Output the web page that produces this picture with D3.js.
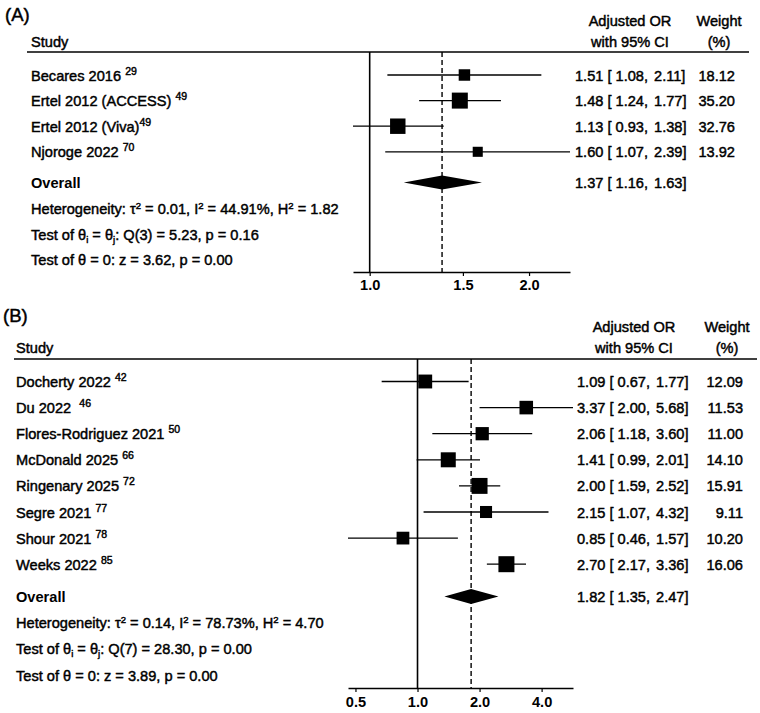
<!DOCTYPE html>
<html>
<head>
<meta charset="utf-8">
<script src="https://cdn.jsdelivr.net/npm/d3@7/dist/d3.min.js"></script>
<style>
  body { margin: 0; background: #fff; }
  svg { display: block; }
  text { font-family: "Liberation Sans", Arial, sans-serif; fill: #000; white-space: pre; }
  .reg { stroke: #000; stroke-width: 0.45px; }
</style>
</head>
<body>
<svg id="chart" width="760" height="713"></svg>
<script>
// ---------------- Panel A data ----------------
const studiesA = ["Becares 2016", "Ertel 2012 (ACCESS)", "Ertel 2012 (Viva)", "Njoroge 2022"];
const refsA    = ["29", "49", "49", "70"];
const orA      = [1.51, 1.48, 1.13, 1.60];
const lowA     = [1.08, 1.24, 0.93, 1.07];
const highA    = [2.11, 1.77, 1.38, 2.39];
const weightA  = [18.12, 35.20, 32.76, 13.92];
const overallA = [1.37, 1.16, 1.63];
const hetA     = ["0.01", "44.91%", "1.82"];
const qA       = ["3", "5.23", "0.16"];
const zA       = ["3.62", "0.00"];
const ticksA   = [1.0, 1.5, 2.0];

// ---------------- Panel B data ----------------
const studiesB = ["Docherty 2022", "Du 2022", "Flores-Rodriguez 2021", "McDonald 2025",
                  "Ringenary 2025", "Segre 2021", "Shour 2021", "Weeks 2022"];
const refsB    = ["42", "46", "50", "66", "72", "77", "78", "85"];
const orB      = [1.09, 3.37, 2.06, 1.41, 2.00, 2.15, 0.85, 2.70];
const lowB     = [0.67, 2.00, 1.18, 0.99, 1.59, 1.07, 0.46, 2.17];
const highB    = [1.77, 5.68, 3.60, 2.01, 2.52, 4.32, 1.57, 3.36];
const weightB  = [12.09, 11.53, 11.00, 14.10, 15.91, 9.11, 10.20, 16.06];
const overallB = [1.82, 1.35, 2.47];
const hetB     = ["0.14", "78.73%", "4.70"];
const qB       = ["7", "28.30", "0.00"];
const zB       = ["3.89", "0.00"];
const ticksB   = [0.5, 1.0, 2.0, 4.0];

const svg = d3.select("#chart");
const FS = 14.6;
const f2 = d3.format(".2f");

function estText(sel, o, l, h) {
  sel.append("tspan").text(`${f2(o)} [ ${f2(l)},`);
  sel.append("tspan").attr("dx", 6).text(`${f2(h)}]`);
}

function panel(cfg) {
  const g = svg.append("g");
  const n = cfg.studies.length;
  const lo = d3.min(cfg.low), hi = d3.max(cfg.high);
  const x = d3.scaleLog().domain([lo, hi]).range([cfg.axisL, cfg.axisR]);
  const rowBase = i => cfg.firstBase + i * cfg.step;   // text baseline
  const rowMid = i => rowBase(i) - 5.5;

  // panel label
  g.append("text").attr("x", cfg.labX).attr("y", cfg.labY)
    .attr("font-size", 18.5).attr("class", "reg").text(cfg.label);

  // headers
  g.append("text").attr("x", cfg.textL).attr("y", cfg.hdr2).attr("font-size", FS).attr("class","reg").text("Study");
  g.append("text").attr("x", cfg.orC).attr("y", cfg.hdr1).attr("text-anchor", "middle").attr("font-size", FS).attr("class","reg").text("Adjusted OR");
  g.append("text").attr("x", cfg.orC).attr("y", cfg.hdr2).attr("text-anchor", "middle").attr("font-size", FS).attr("class","reg").text("with 95% CI");
  g.append("text").attr("x", cfg.wC).attr("y", cfg.hdr1).attr("text-anchor", "middle").attr("font-size", FS).attr("class","reg").text("Weight");
  g.append("text").attr("x", cfg.wC).attr("y", cfg.hdr2).attr("text-anchor", "middle").attr("font-size", FS).attr("class","reg").text("(%)");

  // header rule
  g.append("line").attr("x1", cfg.ruleL).attr("x2", cfg.ruleR)
    .attr("y1", cfg.ruleY).attr("y2", cfg.ruleY).attr("stroke", "#000").attr("stroke-width", 1.6);

  // null line
  g.append("line").attr("x1", x(1)).attr("x2", x(1))
    .attr("y1", cfg.ruleY).attr("y2", cfg.axisY).attr("stroke", "#000").attr("stroke-width", 1.6);
  // overall dashed line
  g.append("line").attr("x1", x(cfg.overall[0])).attr("x2", x(cfg.overall[0]))
    .attr("y1", cfg.ruleY).attr("y2", cfg.axisY).attr("stroke", "#000").attr("stroke-width", 1.4)
    .attr("stroke-dasharray", "5,3");

  // axis
  const axis = d3.axisBottom(x).tickValues(cfg.ticks).tickFormat(d3.format(".1f")).tickSize(4).tickSizeOuter(0);
  const ag = g.append("g").attr("transform", `translate(0,${cfg.axisY})`).call(axis);
  ag.select(".domain").attr("stroke", "#000").attr("stroke-width", 1.4);
  ag.selectAll(".tick line").attr("stroke", "#000").attr("stroke-width", 1.2);
  ag.selectAll(".tick text").attr("font-size", FS).attr("font-family", "Liberation Sans, Arial, sans-serif")
    .attr("font-weight", "bold").attr("dy", null).attr("y", cfg.tickLabY);

  const maxW = d3.max(cfg.weight);
  const sizeOf = w => 16 * Math.sqrt(w / maxW);

  const rows = g.selectAll("g.row").data(d3.range(n)).join("g").attr("class", "row");
  rows.append("line")
    .attr("x1", i => x(cfg.low[i])).attr("x2", i => x(cfg.high[i]))
    .attr("y1", rowMid).attr("y2", rowMid).attr("stroke", "#000").attr("stroke-width", 1.3);
  rows.append("rect")
    .attr("x", i => x(cfg.or[i]) - sizeOf(cfg.weight[i]) / 2)
    .attr("y", i => rowMid(i) - sizeOf(cfg.weight[i]) / 2)
    .attr("width", i => sizeOf(cfg.weight[i])).attr("height", i => sizeOf(cfg.weight[i]))
    .attr("fill", "#000");
  const lab = rows.append("text").attr("x", cfg.textL).attr("y", rowBase).attr("font-size", FS).attr("class","reg");
  lab.append("tspan").text(i => cfg.studies[i] + cfg.gap[i]);
  lab.append("tspan").attr("font-size", 10.5).attr("dy", -6).text(i => cfg.refs[i]);
  rows.append("text").attr("x", cfg.estL).attr("y", rowBase).attr("font-size", FS).attr("class","reg")
    .each(function(i) { estText(d3.select(this), cfg.or[i], cfg.low[i], cfg.high[i]); });
  rows.append("text").attr("x", cfg.wR).attr("y", rowBase).attr("text-anchor", "end").attr("font-size", FS).attr("class","reg")
    .text(i => f2(cfg.weight[i]));

  // overall
  const oy = cfg.overallBase - 5.5;
  const dh = cfg.diamondH;
  g.append("path")
    .attr("d", `M${x(cfg.overall[1])},${oy} L${x(cfg.overall[0])},${oy - dh} L${x(cfg.overall[2])},${oy} L${x(cfg.overall[0])},${oy + dh} Z`)
    .attr("fill", "#000");
  g.append("text").attr("x", cfg.textL).attr("y", cfg.overallBase).attr("font-size", FS).attr("font-weight", "bold").text("Overall");
  const ot = g.append("text").attr("x", cfg.estL).attr("y", cfg.overallBase).attr("font-size", FS).attr("class","reg");
  estText(ot, cfg.overall[0], cfg.overall[1], cfg.overall[2]);

  // statistics
  const t1 = g.append("text").attr("x", cfg.textL).attr("y", cfg.statBase[0]).attr("font-size", FS).attr("class","reg");
  t1.append("tspan").text("Heterogeneity: τ");
  t1.append("tspan").attr("font-size", 9.5).attr("dy", -5).text("2");
  t1.append("tspan").attr("dy", 5).text(` = ${cfg.het[0]}, I`);
  t1.append("tspan").attr("font-size", 9.5).attr("dy", -5).text("2");
  t1.append("tspan").attr("dy", 5).text(` = ${cfg.het[1]}, H`);
  t1.append("tspan").attr("font-size", 9.5).attr("dy", -5).text("2");
  t1.append("tspan").attr("dy", 5).text(` = ${cfg.het[2]}`);

  const t2 = g.append("text").attr("x", cfg.textL).attr("y", cfg.statBase[1]).attr("font-size", FS).attr("class","reg");
  t2.append("tspan").text("Test of θ");
  t2.append("tspan").attr("font-size", 9.5).attr("dy", 3).text("i");
  t2.append("tspan").attr("dy", -3).text(" = θ");
  t2.append("tspan").attr("font-size", 9.5).attr("dy", 3).text("j");
  t2.append("tspan").attr("dy", -3).text(`: Q(${cfg.q[0]}) = ${cfg.q[1]}, p = ${cfg.q[2]}`);

  g.append("text").attr("x", cfg.textL).attr("y", cfg.statBase[2]).attr("font-size", FS).attr("class","reg")
    .text(`Test of θ = 0: z = ${cfg.z[0]}, p = ${cfg.z[1]}`);
}

panel({
  label: "(A)", labX: 5, labY: 21,
  studies: studiesA, refs: refsA, gap: [" ", " ", "", " "],
  or: orA, low: lowA, high: highA, weight: weightA, overall: overallA,
  het: hetA, q: qA, z: zA, ticks: ticksA,
  textL: 31, hdr1: 26, hdr2: 47, orC: 630, wC: 719,
  ruleL: 27, ruleR: 749, ruleY: 52,
  axisL: 353, axisR: 570, axisY: 272, tickLabY: 18,
  firstBase: 80.5, step: 25.6, overallBase: 188, diamondH: 7,
  statBase: [214, 239.5, 265],
  estL: 575, wR: 735
});

panel({
  label: "(B)", labX: 3, labY: 322,
  studies: studiesB, refs: refsB, gap: [" ", "  ", " ", " ", " ", " ", " ", " "],
  or: orB, low: lowB, high: highB, weight: weightB, overall: overallB,
  het: hetB, q: qB, z: zB, ticks: ticksB,
  textL: 16, hdr1: 332, hdr2: 353, orC: 634, wC: 727,
  ruleL: 14, ruleR: 757, ruleY: 359,
  axisL: 348, axisR: 573, axisY: 688, tickLabY: 19,
  firstBase: 387, step: 26.1, overallBase: 602, diamondH: 7.5,
  statBase: [628, 654, 681],
  estL: 577, wR: 743
});
</script>
</body>
</html>
